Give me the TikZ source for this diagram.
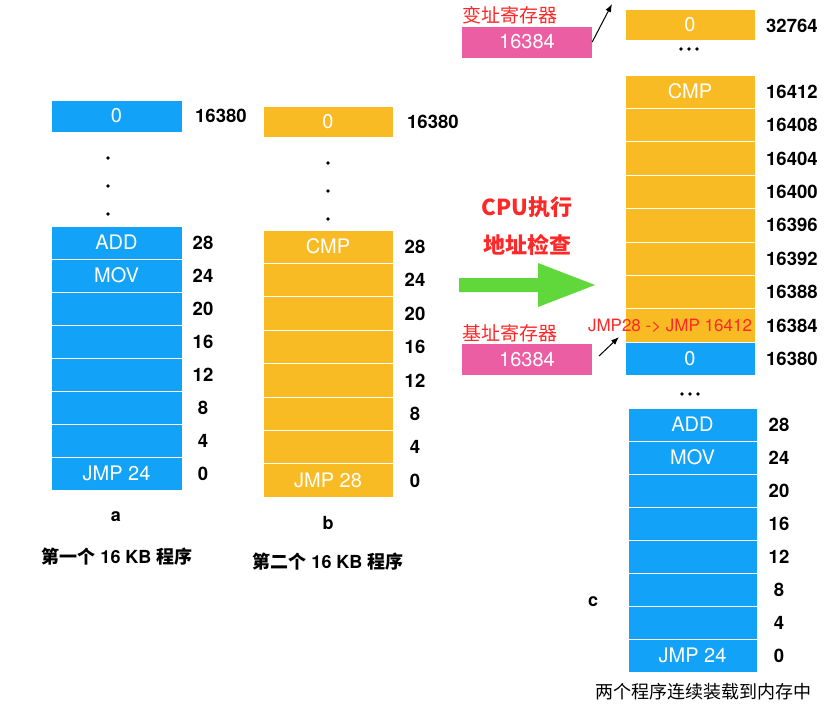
\documentclass[tikz,border=0pt]{standalone}
\usepackage{fontspec}
\setmainfont{TeX Gyre Heros}
\newfontfamily\cjk{Noto Sans CJK SC}
\usetikzlibrary{arrows.meta}
\definecolor{cblue}{RGB}{18,162,248}
\definecolor{corange}{RGB}{248,187,36}
\definecolor{cpink}{RGB}{236,94,164}
\definecolor{cgreen}{RGB}{96,216,60}
\definecolor{cred}{RGB}{255,40,40}
\tikzset{
 cell/.style={draw=white, line width=0.8pt, minimum width=131pt, minimum height=33pt, inner sep=0pt, text=white, font=\fontsize{20}{24}\selectfont},
 bcell/.style={cell, fill=cblue},
 ocell/.style={cell, fill=corange},
 addr/.style={font=\fontsize{18.5}{22}\selectfont\bfseries, inner sep=0pt},
 reg/.style={fill=cpink, minimum width=130pt, minimum height=31pt, inner sep=0pt, text=white, font=\fontsize{20}{24}\selectfont},
 redlbl/.style={text=cred, font=\cjk\fontsize{19}{22}\selectfont, inner sep=0pt},
 caplbl/.style={font=\fontsize{18}{22}\selectfont, inner sep=0pt},
 ptr/.style={-{Latex[length=8pt,width=6pt]}, line width=1pt},
}
\begin{document}
\begin{tikzpicture}[x=1pt,y=-1pt]
\useasboundingbox[fill=white] (0,0) rectangle (836,720);
% column a
\node[bcell, minimum height=32pt] (atop) at (116.5,116) {0};
\node[addr, anchor=west] (latop) at (195,116) {16380};
\foreach \y in {158,186,214} \fill (108,\y) circle (1.9);
\foreach \i/\t/\n in {0/ADD/28,1/MOV/24,2//20,3//16,4//12,5//8,6//4,7/JMP 24/0} {
  \node[bcell] (a\i) at (116.5,{242.5+33*\i}) {\t};
  \node[addr] (la\i) at (203,{242.5+33*\i}) {\n};
}
% column b
\node[ocell, minimum width=130pt, minimum height=31pt] (btop) at (328,121.5) {0};
\node[addr, anchor=west] (lbtop) at (407,122) {16380};
\foreach \y in {163,191,219} \fill (328,\y) circle (1.9);
\foreach \i/\t/\n in {0/CMP/28,1//24,2//20,3//16,4//12,5//8,6//4,7/JMP 28/0} {
  \node[ocell, minimum width=130pt, minimum height=33.4pt] (b\i) at (328,{246.7+33.4*\i}) {\t};
  \node[addr] (lb\i) at (415,{246.7+33.4*\i}) {\n};
}
% column c upper
\node[ocell, minimum width=130pt, minimum height=31pt] (ctop) at (690,24.5) {0};
\node[addr, anchor=west] (lctop) at (766,26) {32764};
\foreach \x in {681,689,697} \fill (\x,49) circle (1.9);
\foreach \i/\t/\n in {0/CMP/16412,1//16408,2//16404,3//16400,4//16396,5//16392,6//16388,7//16384} {
  \node[ocell, minimum width=130pt, minimum height=33.4pt] (c\i) at (690,{91.7+33.4*\i}) {\t};
  \node[addr, anchor=west] (lc\i) at (766,{91.7+33.4*\i}) {\n};
}
\node[bcell, minimum width=130pt] (cz) at (690,358.5) {0};
\node[addr, anchor=west] (lcz) at (766,358.5) {16380};
% column c lower
\foreach \x in {682,690,698} \fill (\x,394) circle (1.9);
\foreach \i/\t/\n in {0/ADD/28,1/MOV/24,2//20,3//16,4//12,5//8,6//4,7/JMP 24/0} {
  \node[bcell, minimum width=129pt] (d\i) at (692.5,{424.5+33*\i}) {\t};
  \node[addr] (ld\i) at (779,{424.5+33*\i}) {\n};
}
% registers
\node[reg] (vreg) at (527,42) {16384};
\node[redlbl, anchor=west] (vlbl) at (462,15) {变址寄存器};
\coordinate (vtip) at (612,4);
\draw[ptr] (vreg.east) -- (vtip);
\node[reg] (breg) at (527,359.5) {16384};
\node[redlbl, anchor=west] (blbl) at (462,333) {基址寄存器};
\coordinate (btail) at (599,356);
\coordinate (btip) at (619,337);
\draw[ptr] (btail) -- (btip);
\node[text=cred, font=\fontsize{17}{20}\selectfont, inner sep=0pt] (jmp) at (670,326) {JMP28 -> JMP 16412};
% CPU text and arrow
\node[redlbl, font=\cjk\fontsize{22}{26}\selectfont\bfseries] (cpu) at (527,207) {CPU执行};
\node[redlbl, font=\cjk\fontsize{22}{26}\selectfont\bfseries] (chk) at (527,245) {地址检查};
\fill[cgreen] (459,278) -- (538,278) -- (538,263) -- (595,285) -- (538,307) -- (538,292) -- (459,292) -- cycle;
% captions
\node[caplbl, font=\fontsize{18}{22}\selectfont\bfseries] (la) at (116,517) {a};
\node[caplbl, font=\fontsize{18}{22}\selectfont\bfseries] (lb) at (328,523) {b};
\node[caplbl, font=\fontsize{18}{22}\selectfont\bfseries] (lc) at (593,602) {c};
\node[caplbl] (capa) at (117,557) {{\cjk\bfseries 第一个} \textbf{16 KB} {\cjk\bfseries 程序}};
\node[caplbl] (capb) at (328,562) {{\cjk\bfseries 第二个} \textbf{16 KB} {\cjk\bfseries 程序}};
\node[caplbl, font=\cjk\fontsize{18}{22}\selectfont] (capc) at (703,692) {两个程序连续装载到内存中};
\end{tikzpicture}
\end{document}
